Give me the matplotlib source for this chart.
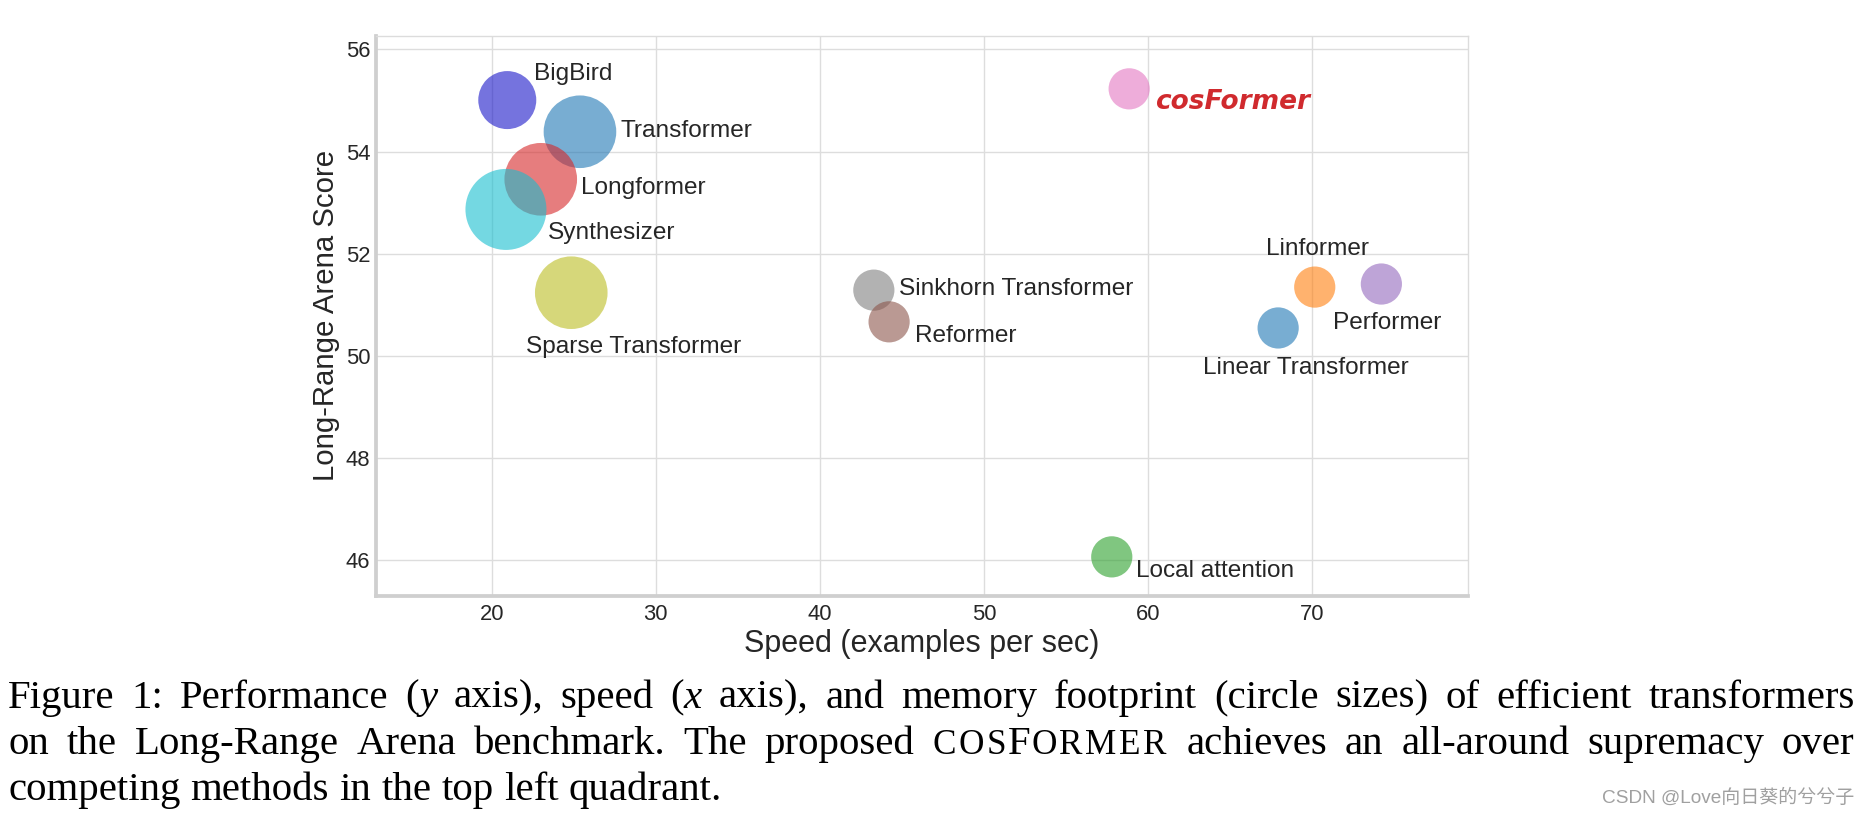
import re
import matplotlib
matplotlib.use("Agg")
import matplotlib.pyplot as plt
from matplotlib.transforms import IdentityTransform

# ---------------- data ----------------
models = ["BigBird", "Transformer", "Longformer", "Synthesizer", "Sparse Transformer",
          "cosFormer", "Sinkhorn Transformer", "Reformer", "Linformer", "Performer",
          "Linear Transformer", "Local attention"]
speed = [20.95, 25.38, 22.99, 20.87, 24.85, 58.85, 43.29, 44.22, 70.16, 74.22, 67.93, 57.79]
score = [55.01, 54.39, 53.46, 52.87, 51.24, 55.23, 51.29, 50.67, 51.35, 51.41, 50.55, 46.07]
memory_bubble = [1744, 2733, 2733, 3401, 2733, 880, 880, 880, 880, 880, 880, 880]
colors = ["#1916C8", "tab:blue", "tab:red", "tab:cyan", "tab:olive", "tab:pink",
          "tab:gray", "tab:brown", "tab:orange", "tab:purple", "tab:blue", "tab:green"]
label_offsets = [(19.4, 14.4), (29.3, -3.6), (29.0, -10.6), (30.5, -21.6), (-32.6, -43.6),
                 (18.3, -14.4), (18.4, -3.8), (18.6, -14.4), (-34.8, 22.8), (-35.1, -32.6),
                 (-53.8, -32.8), (17.7, -14.6)]
x_ticks = [20, 30, 40, 50, 60, 70]
y_ticks = [46, 48, 50, 52, 54, 56]

caption_lines = [
    "Figure 1: Performance (*y* axis), speed (*x* axis), and memory footprint (circle sizes) of efficient transformers",
    "on the Long-Range Arena benchmark. The proposed ^COS^F^ORMER^ achieves an all-around supremacy over",
    "competing methods in the top left quadrant.",
]
watermark = "CSDN @Love向日葵的兮兮子"

# ---------------- figure ----------------
W, H = 1870, 817
fig = plt.figure(figsize=(W / 100, H / 100), dpi=100)
fig.patch.set_facecolor("white")
L, R, T, B = 376, 1468, 35.7, 595.7
ax = fig.add_axes([L / W, 1 - B / H, (R - L) / W, (B - T) / H])

sans = "Liberation Sans"
dark = "#262626"

ax.set_axisbelow(True)
ax.grid(True, color="#dddddd", linewidth=1.0)
for side in ["top", "right"]:
    ax.spines[side].set_color("#dcdcdc")
    ax.spines[side].set_linewidth(1.0)
for side in ["left", "bottom"]:
    ax.spines[side].set_color("#cfcfcf")
    ax.spines[side].set_linewidth(2.7)

ax.scatter(speed, score, s=memory_bubble, c=colors, alpha=0.6, linewidths=0, zorder=3)

for name, x, y, off in zip(models, speed, score, label_offsets):
    if name == "cosFormer":
        ax.annotate(name, (x, y), xytext=off, textcoords="offset points",
                    ha="left", va="baseline", fontsize=19, fontweight="bold",
                    fontstyle="italic", color="#d02a2e", family="DejaVu Sans", zorder=4)
    else:
        ax.annotate(name, (x, y), xytext=off, textcoords="offset points",
                    ha="left", va="baseline", fontsize=17.6, color=dark,
                    family=sans, zorder=4)

ax.set_xlim(12.95, 79.5)
ax.set_ylim(45.31, 56.27)
ax.set_xticks(x_ticks)
ax.set_yticks(y_ticks)
ax.tick_params(axis="both", length=0, labelsize=15.8, labelcolor=dark)
ax.tick_params(axis="x", pad=6)
ax.tick_params(axis="y", pad=4)
for lab in ax.get_xticklabels() + ax.get_yticklabels():
    lab.set_family(sans)
ax.set_xlabel("Speed (examples per sec)", fontsize=22, family=sans, color=dark, labelpad=3)
ax.set_ylabel("Long-Range Arena Score", fontsize=21.2, family=sans, color=dark, labelpad=4)

# ---------------- caption (justified) ----------------
renderer = fig.canvas.get_renderer()
cap_size = 29.4
serif = "Liberation Serif"
left_px, right_px = 8.0, 1854.5
baselines = [707.7, 753.8, 800.0]
sc_scale, sc_track = 0.86, 2.5


def parse_word(word):
    segs = []
    for part in re.split(r"(\*[^*]+\*|\^[^^]+\^)", word):
        if not part:
            continue
        if part.startswith("*"):
            segs.append((part[1:-1], 1.0, "italic", 0.0))
        elif part.startswith("^"):
            for ch in part[1:-1]:
                segs.append((ch, sc_scale, "normal", sc_track))
        else:
            segs.append((part, 1.0, "normal", 0.0))
    return segs


for i, line in enumerate(caption_lines):
    words = line.split(" ")
    word_objs = []
    for w in words:
        objs = []
        for text, scale, style, track in parse_word(w):
            t = fig.text(0, 0, text, fontsize=cap_size * scale, family=serif, style=style,
                         ha="left", va="baseline", color="black", transform=IdentityTransform())
            wdt = t.get_window_extent(renderer).width + track
            objs.append((t, wdt))
        word_objs.append(objs)
    widths = [sum(wd for _, wd in objs) for objs in word_objs]
    if i < len(caption_lines) - 1:
        gap = (right_px - left_px - sum(widths)) / (len(words) - 1)
    else:
        gap = 0.25 * cap_size * 100 / 72
    x = left_px
    yb = H - baselines[i]
    for objs, wsum in zip(word_objs, widths):
        xx = x
        for t, wd in objs:
            t.set_position((xx, yb))
            xx += wd
        x += wsum + gap

# ---------------- watermark ----------------
wm = fig.text(0, 0, watermark, fontsize=13, family=["Liberation Sans", "Noto Sans CJK SC"],
              color="#a0a0a0", ha="right", va="baseline", transform=IdentityTransform())
w0 = wm.get_window_extent(renderer).width
wm.set_fontsize(13 * 252 / w0)
wm.set_position((1854.5, H - 803))

fig.savefig("out.png", dpi=100, facecolor="white")
